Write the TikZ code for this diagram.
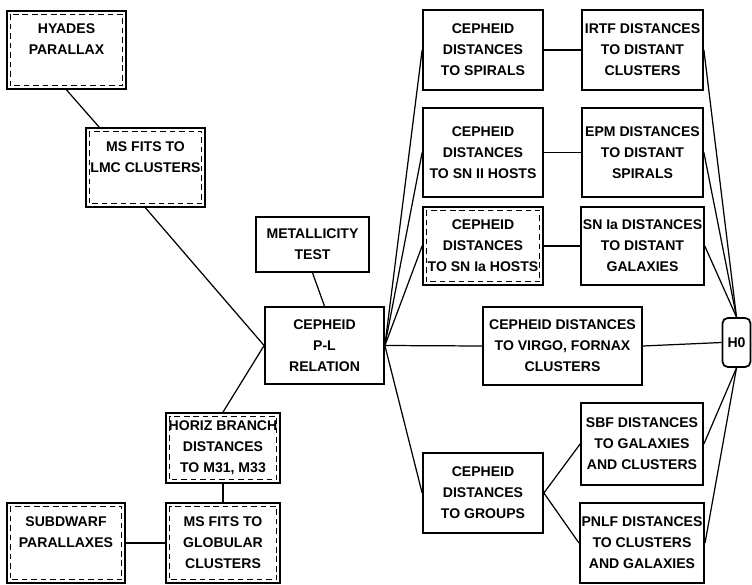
\documentclass[tikz,border=0pt]{standalone}
\usepackage{fontspec}
\setmainfont{Liberation Sans}
\usepackage{tikz}
\usetikzlibrary{positioning}

\begin{document}
\begin{tikzpicture}[every node/.style={font=\fontsize{8}{12}\selectfont\bfseries},
  box/.style={draw, line width=1pt, align=center, inner sep=1pt, minimum width=2.4cm, minimum height=1.6cm},
  link/.style={line width=0.7pt},
  inner/.style={line width=0.6pt, dash pattern=on 3.2pt off 2.2pt}]
\useasboundingbox (0,0) rectangle (15.04,11.68);
% left branch
\node[box, minimum width=2.38cm, minimum height=1.56cm] (hyades) at (1.33,10.68) {HYADES\\PARALLAX\\~};
\node[box, minimum width=2.38cm, minimum height=1.58cm] (lmc) at (2.91,8.33) {MS FITS TO\\LMC CLUSTERS\\~};
\node[box, minimum width=2.26cm, minimum height=1.1cm] (metal) at (6.25,6.79) {METALLICITY\\TEST};
\node[box, minimum width=2.38cm, minimum height=1.54cm] (pl) at (6.49,4.77) {CEPHEID\\P-L\\RELATION};
\node[box, minimum width=2.28cm, minimum height=1.4cm] (horiz) at (4.46,2.72) {HORIZ BRANCH\\DISTANCES\\TO M31, M33};
\node[box, minimum width=2.28cm] (glob) at (4.46,0.82) {MS FITS TO\\GLOBULAR\\CLUSTERS};
\node[box, minimum width=2.36cm] (subdw) at (1.32,0.82) {SUBDWARF\\PARALLAXES\\~};
% right branch
\node[box] (spirals) at (9.66,10.68) {CEPHEID\\DISTANCES\\TO SPIRALS};
\node[box, minimum width=2.42cm] (irtf) at (12.85,10.68) {IRTF DISTANCES\\TO DISTANT\\CLUSTERS};
\node[box, minimum height=1.78cm] (snii) at (9.66,8.63) {CEPHEID\\DISTANCES\\TO SN II HOSTS};
\node[box, minimum width=2.42cm, minimum height=1.78cm] (epm) at (12.85,8.63) {EPM DISTANCES\\TO DISTANT\\SPIRALS};
\node[box, minimum height=1.56cm] (sniah) at (9.66,6.76) {CEPHEID\\DISTANCES\\TO SN Ia HOSTS};
\node[box, minimum width=2.42cm, minimum height=1.56cm] (sniad) at (12.85,6.76) {SN Ia DISTANCES\\TO DISTANT\\GALAXIES};
\node[box, minimum width=3.18cm, minimum height=1.56cm] (virgo) at (11.25,4.76) {CEPHEID DISTANCES\\TO VIRGO, FORNAX\\CLUSTERS};
\node[box, rounded corners=3pt, minimum width=0.56cm, minimum height=0.98cm] (h0) at (14.73,4.83) {H0};
\node[box, minimum width=2.44cm, minimum height=1.64cm] (sbf) at (12.84,2.80) {SBF DISTANCES\\TO GALAXIES\\AND CLUSTERS};
\node[box] (groups) at (9.66,1.82) {CEPHEID\\DISTANCES\\TO GROUPS};
\node[box, minimum width=2.44cm] (pnlf) at (12.84,0.82) {PNLF DISTANCES\\TO CLUSTERS\\AND GALAXIES};
% dashed inner frames
\foreach \n in {hyades,lmc,horiz,glob,subdw,sniah}
  \draw[inner] ([shift={(0.08,-0.08)}]\n.north west) rectangle ([shift={(-0.08,0.08)}]\n.south east);
% connectors
\draw[link] (hyades.south) -- ([xshift=0.28cm]lmc.north west);
\draw[link] (lmc.south) -- (pl.west);
\draw[link] (horiz.north) -- (pl.west);
\draw[link] (metal.south) -- (pl.north);
\draw[link] (horiz.south) -- (glob.north);
\draw[link] (subdw.east) -- (glob.west);
\foreach \n in {spirals,snii,sniah,virgo,groups}
  \draw[link] (pl.east) -- (\n.west);
\draw[link] (spirals.east) -- (irtf.west);
\draw[link] (snii.east) -- (epm.west);
\draw[link] (sniah.east) -- (sniad.west);
\draw[link] (groups.east) -- (sbf.west);
\draw[link] (groups.east) -- (pnlf.west);
\foreach \n in {irtf,epm,sniad}
  \draw[link] (\n.east) -- (h0.north);
\draw[link] (virgo.east) -- (h0.west);
\foreach \n in {sbf,pnlf}
  \draw[link] (\n.east) -- (h0.south);
\end{tikzpicture}
\end{document}
